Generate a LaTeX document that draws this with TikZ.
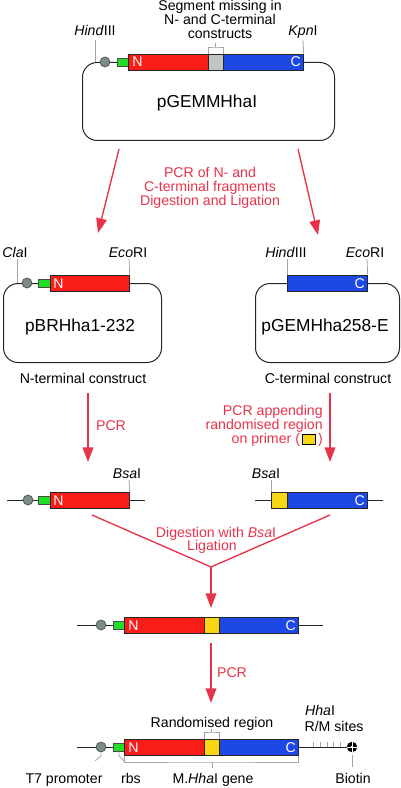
\documentclass[tikz,border=0pt]{standalone}
\usepackage{fontspec}
\setmainfont{Liberation Sans}
\usetikzlibrary{arrows.meta}
\definecolor{genered}{RGB}{250,28,22}
\definecolor{geneblue}{RGB}{30,72,230}
\definecolor{genegreen}{RGB}{30,222,40}
\definecolor{genegray}{RGB}{192,196,196}
\definecolor{geneyellow}{RGB}{248,214,20}
\definecolor{promgray}{RGB}{122,140,135}
\definecolor{arrowred}{RGB}{232,50,74}
\definecolor{leadgray}{RGB}{165,165,165}
\newcommand{\primersq}{{\setlength{\fboxsep}{0pt}\setlength{\fboxrule}{0.5pt}\raisebox{-0.8pt}{\fcolorbox{black}{geneyellow}{\rule{0pt}{6.8pt}\rule{9pt}{0pt}}}}}
\begin{document}
\begin{tikzpicture}[x=0.75pt,y=-0.75pt,
  lbl/.style={font=\fontsize{10.6pt}{10.5pt}\selectfont, inner sep=0pt, anchor=base},
  big/.style={font=\fontsize{13pt}{13pt}\selectfont, inner sep=0pt, anchor=base},
  redlbl/.style={lbl, text=arrowred},
  flow/.style={draw=arrowred, line width=1pt, -{Triangle[length=11pt,width=8pt]}},
  flowline/.style={draw=arrowred, line width=1pt},
  lead/.style={draw=leadgray, line width=0.6pt},
  dna/.style={draw=black!85, line width=0.75pt},
  plasmid/.style={draw=black!85, line width=0.75pt, rounded corners=11pt, inner sep=0pt, anchor=north west},
  genebox/.style={draw=black!85, line width=0.5pt, inner sep=0pt, anchor=west, minimum height=12pt},
  promoter/.style={circle, draw=black!70, fill=promgray, line width=0.5pt, minimum size=7.5pt, inner sep=0pt},
  rbsbox/.style={draw=black!70, fill=genegreen, line width=0.5pt, inner sep=0pt, minimum height=6pt, anchor=west},
  genelbl/.style={lbl, text=white}
]
\useasboundingbox (0,0) rectangle (400,788);

% ---------- Plasmid pGEMMHhaI ----------
\node[lbl] (t1) at (220,11) {Segment missing in};
\node[lbl] (t2) at (220,25) {N- and C-terminal};
\node[lbl] (t3) at (220,39) {constructs};
\node[plasmid, minimum width=189pt, minimum height=58.5pt] (p1) at (82,62) {};
\node[big] (p1name) at (207,108) {pGEMMHhaI};
\coordinate (p1hindT) at (95,40);
\coordinate (p1hindB) at (95,62);
\draw[lead] (p1hindT) -- (p1hindB);
\node[promoter] (p1prom) at (105,62) {};
\node[rbsbox, minimum width=8.25pt] (p1rbs) at (117,62) {};
\node[genebox, fill=genered, minimum width=60pt] (p1N) at (128,62) {};
\node[genebox, fill=genegray, minimum width=11.25pt] (p1seg) at (208,62) {};
\node[genebox, fill=geneblue, minimum width=60pt] (p1C) at (223,62) {};
\node[genelbl, anchor=base west] (p1Nl) at (132,67) {N};
\node[genelbl, anchor=base east] (p1Cl) at (301,67) {C};
\coordinate (p1kpnT) at (303,40);
\draw[lead] (p1kpnT) -- (p1C.north east);
\node[lbl] (p1hind) at (95,36) {\textit{Hind}III};
\node[lbl] (p1kpn) at (303,36) {\textit{Kpn}I};
\coordinate (p1brk) at (215.5,47);
\draw[lead] (p1seg.north west) |- (p1brk) -| (p1seg.north east);
\draw[lead] (p1brk) -- ++(0,-4);

% ---------- first arrows ----------
\coordinate (a1s) at (119,149); \coordinate (a1e) at (98,233);
\coordinate (a2s) at (298,149); \coordinate (a2e) at (318,235);
\draw[flow] (a1s) -- (a1e);
\draw[flow] (a2s) -- (a2e);
\node[redlbl] (r1) at (210,177) {PCR of N- and};
\node[redlbl] (r2) at (210,191) {C-terminal fragments};
\node[redlbl] (r3) at (210,205) {Digestion and Ligation};

% ---------- Plasmid pBRHha1-232 ----------
\node[plasmid, minimum width=118.5pt, minimum height=59.25pt] (p2) at (3,283) {};
\coordinate (p2claT) at (17,259); \coordinate (p2claB) at (17,283);
\draw[lead] (p2claT) -- (p2claB);
\node[promoter] (p2prom) at (27,283) {};
\node[rbsbox, minimum width=9pt] (p2rbs) at (38,283) {};
\node[genebox, fill=genered, minimum width=59.25pt] (p2N) at (50,283) {};
\node[genelbl, anchor=base west] (p2Nl) at (53,288) {N};
\coordinate (p2ecoT) at (129,259);
\draw[lead] (p2ecoT) -- (p2N.north east);
\node[lbl] (p2cla) at (15,257) {\textit{Cla}I};
\node[lbl] (p2eco) at (128,257) {\textit{Eco}RI};
\node[big] (p2name) at (80,331) {pBRHha1-232};
\node[lbl] (p2cap) at (83,383) {N-terminal construct};

% ---------- Plasmid pGEMHha258-E ----------
\node[plasmid, minimum width=108pt, minimum height=59.25pt] (p3) at (255,283) {};
\node[genebox, fill=geneblue, minimum width=60pt] (p3C) at (287,283) {};
\node[genelbl, anchor=base east] (p3Cl) at (365,288) {C};
\coordinate (p3hindT) at (287,259); \coordinate (p3ecoT) at (367,259);
\draw[lead] (p3hindT) -- (p3C.north west);
\draw[lead] (p3ecoT) -- (p3C.north east);
\node[lbl] (p3hind) at (286,257) {\textit{Hind}III};
\node[lbl] (p3eco) at (365,257) {\textit{Eco}RI};
\node[big] (p3name) at (325,331) {pGEMHha258-E};
\node[lbl] (p3cap) at (328,383) {C-terminal construct};

% ---------- PCR arrows ----------
\coordinate (b1s) at (88,393); \coordinate (b1e) at (88,462);
\coordinate (b2s) at (330,393); \coordinate (b2e) at (330,462);
\draw[flow] (b1s) -- (b1e);
\draw[flow] (b2s) -- (b2e);
\node[redlbl] (pcr1) at (111,430) {PCR};
\node[redlbl, anchor=base east] (pa1) at (323,415) {PCR appending};
\node[redlbl, anchor=base east] (pa2) at (323,429) {randomised region};
\node[redlbl, anchor=base east] (pa3) at (323,443) {on primer (\,\primersq\,)};

% ---------- linear N fragment ----------
\coordinate (l1a) at (7,500); \coordinate (l1b) at (145,500);
\draw[dna] (l1a) -- (l1b);
\node[promoter] (l1prom) at (28,500) {};
\node[rbsbox, minimum width=9pt] (l1rbs) at (38,500) {};
\node[genebox, fill=genered, minimum width=59.25pt] (l1N) at (50,500) {};
\node[genelbl, anchor=base west] (l1Nl) at (53,505) {N};
\coordinate (l1bsaT) at (129,480);
\draw[lead] (l1bsaT) -- (l1N.north east);
\node[lbl] (l1bsa) at (127,478) {\textit{Bsa}I};

% ---------- linear C fragment ----------
\coordinate (l2a) at (255,500); \coordinate (l2b) at (383,500);
\draw[dna] (l2a) -- (l2b);
\node[genebox, fill=geneyellow, minimum width=12pt] (l2Y) at (271,500) {};
\node[genebox, fill=geneblue, minimum width=60pt] (l2C) at (287,500) {};
\node[genelbl, anchor=base east] (l2Cl) at (365,505) {C};
\coordinate (l2bsaT) at (271,480);
\draw[lead] (l2bsaT) -- (l2Y.north west);
\node[lbl] (l2bsa) at (266,478) {\textit{Bsa}I};

% ---------- merge ----------
\coordinate (v1) at (92,515); \coordinate (v2) at (330,515);
\coordinate (vm) at (211,567); \coordinate (ve) at (211,608);
\draw[flowline] (v1) -- (vm) -- (v2);
\draw[flow] (vm) -- (ve);
\node[redlbl] (dg1) at (216,537) {Digestion with \textit{Bsa}I};
\node[redlbl] (dg2) at (212,550) {Ligation};

% ---------- ligated construct ----------
\coordinate (c3a) at (77,625); \coordinate (c3b) at (323,625);
\draw[dna] (c3a) -- (c3b);
\node[promoter] (c3prom) at (101,625) {};
\node[rbsbox, minimum width=8.25pt] (c3rbs) at (113,625) {};
\node[genebox, fill=genered, minimum width=60pt] (c3N) at (124,625) {};
\node[genebox, fill=geneyellow, minimum width=11.25pt] (c3Y) at (204,625) {};
\node[genebox, fill=geneblue, minimum width=59.25pt] (c3C) at (219,625) {};
\node[genelbl, anchor=base west] (c3Nl) at (128,630) {N};
\node[genelbl, anchor=base east] (c3Cl) at (296,630) {C};

\coordinate (d1s) at (211,643); \coordinate (d1e) at (211,703);
\draw[flow] (d1s) -- (d1e);
\node[redlbl] (pcr3) at (232,677) {PCR};

% ---------- final construct ----------
\node[circle, fill=black, minimum size=7.8pt, inner sep=0pt] (bio) at (352,747) {};
\coordinate (c4a) at (77,747);
\draw[dna] (c4a) -- (bio);
\draw[white, line width=0.7pt] (bio.north) -- (bio.south) (bio.west) -- (bio.east);
\fill[white] (bio.center) circle (1.1pt);
\foreach \tx in {313,320,327,333,340} \draw[lead] (\tx,742) -- (\tx,747);
\node[promoter] (c4prom) at (101,747) {};
\node[rbsbox, minimum width=8.25pt] (c4rbs) at (113,747) {};
\node[genebox, fill=genered, minimum width=60pt] (c4N) at (124,747) {};
\node[genebox, fill=geneyellow, minimum width=11.25pt] (c4Y) at (204,747) {};
\node[genebox, fill=geneblue, minimum width=59.25pt] (c4C) at (219,747) {};
\node[genelbl, anchor=base west] (c4Nl) at (128,752) {N};
\node[genelbl, anchor=base east] (c4Cl) at (296,752) {C};

\coordinate (c4brk) at (211.5,732);
\draw[lead] (c4Y.north west) |- (c4brk) -| (c4Y.north east);
\draw[lead] (c4brk) -- ++(0,-3.5);
\node[lbl] (rr) at (212,727) {Randomised region};
\node[lbl] (hha1) at (320,715) {\textit{Hha}I};
\node[lbl] (hha2) at (334,731) {R/M sites};

\coordinate (gbL) at (124,756); \coordinate (gbR) at (298,756);
\coordinate (gbM) at (212,762); \coordinate (gbT) at (212,768);
\draw[lead] (gbL) |- (gbM) -| (gbR);
\draw[lead] (gbM) -- (gbT);

\coordinate (t7a) at (101,753); \coordinate (t7b) at (101,756); \coordinate (t7c) at (95,761);
\draw[lead] (t7a) -- (t7b) -- (t7c);
\coordinate (rba) at (119,752); \coordinate (rbb) at (119,756); \coordinate (rbc) at (124,761);
\draw[lead] (rba) -- (rbb) -- (rbc);
\coordinate (bia) at (352,755); \coordinate (bib) at (352,767);
\draw[lead] (bia) -- (bib);

\node[lbl] (lt7) at (64,783) {T7 promoter};
\node[lbl] (lrbs) at (131,783) {rbs};
\node[lbl] (lgene) at (213,783) {M.\textit{Hha}I gene};
\node[lbl] (lbio) at (353,783) {Biotin};
\end{tikzpicture}
\end{document}
